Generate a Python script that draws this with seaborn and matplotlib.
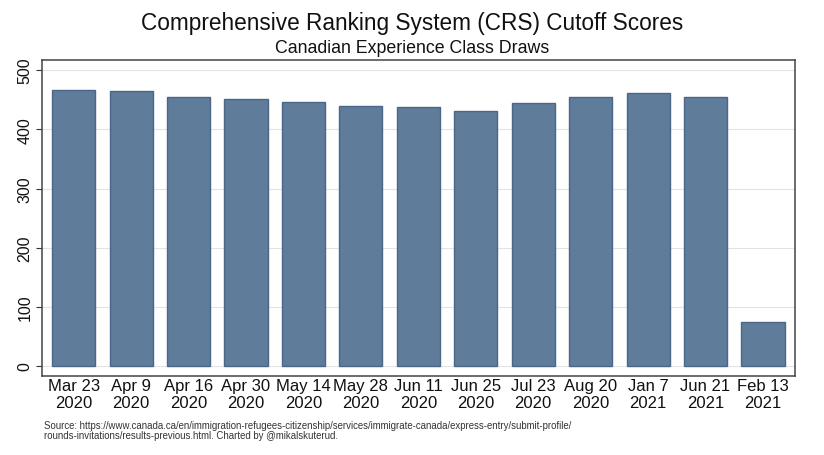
import matplotlib
matplotlib.use("Agg")
import matplotlib.pyplot as plt
import seaborn as sns
import pandas as pd

# Data
draw_dates = ["Mar 23\n2020", "Apr 9\n2020", "Apr 16\n2020", "Apr 30\n2020", "May 14\n2020",
              "May 28\n2020", "Jun 11\n2020", "Jun 25\n2020", "Jul 23\n2020", "Aug 20\n2020",
              "Jan 7\n2021", "Jun 21\n2021", "Feb 13\n2021"]
crs_scores = [467, 464, 455, 452, 447, 440, 437, 431, 445, 454, 461, 454, 75]
y_ticks = [0, 100, 200, 300, 400, 500]

df = pd.DataFrame({"draw": draw_dates, "score": crs_scores})

sns.set_theme(style="white")
plt.rcParams['font.family'] = ['Liberation Sans', 'DejaVu Sans']

fig = plt.figure(figsize=(8.24, 4.56), dpi=100)
ax = fig.add_axes([0.051, 0.173, 0.914, 0.693])

sns.barplot(data=df, x="draw", y="score", color="#5f7c9b", saturation=1,
            width=0.75, edgecolor="#4a6688", linewidth=1, ax=ax, zorder=2)

ax.set_xlim(-0.55, 12.56)
ax.set_ylim(-17, 517)
ax.set_yticks(y_ticks)
ax.set_yticklabels([str(t) for t in y_ticks], rotation=90, va="center", fontsize=11.5,
                   color="#111111")
ax.tick_params(axis="y", length=4, width=0.8, color="#333333", left=True, pad=3)
ax.tick_params(axis="x", length=0, labelsize=12, labelcolor="#111111", pad=1)
ax.grid(axis="y", color="#e3e3e3", linewidth=0.8, zorder=0)
ax.set_axisbelow(True)
ax.set_xlabel("")
ax.set_ylabel("")
for s in ax.spines.values():
    s.set_color("#444444")
    s.set_linewidth(1.1)

fig.text(0.5, 0.948, "Comprehensive Ranking System (CRS) Cutoff Scores",
         ha="center", va="center", fontsize=16.3, color="#111111")
fig.text(0.5, 0.893, "Canadian Experience Class Draws",
         ha="center", va="center", fontsize=12.8, color="#111111")
fig.text(0.053, 0.054,
         "Source: https://www.canada.ca/en/immigration-refugees-citizenship/services/immigrate-canada/express-entry/submit-profile/\n"
         "rounds-invitations/results-previous.html. Charted by @mikalskuterud.",
         ha="left", va="center", fontsize=6.9, color="#333333", linespacing=1.0)

plt.savefig("out.png", dpi=100)
